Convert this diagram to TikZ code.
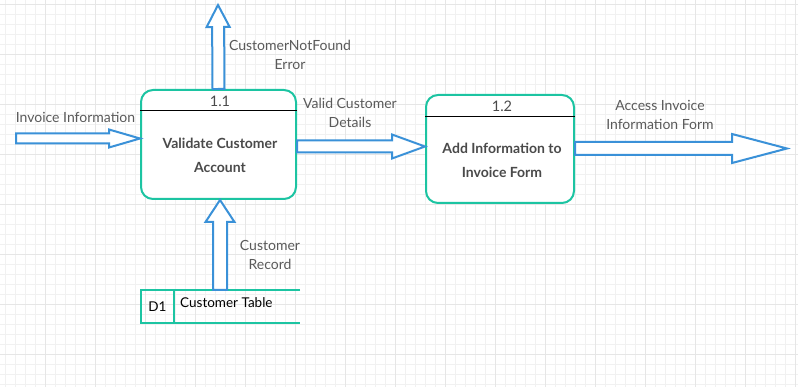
\documentclass[tikz,border=0pt]{standalone}
\usepackage{fontspec}
\setmainfont{Lato}
\usetikzlibrary{calc}

\definecolor{procline}{HTML}{1CC4A2}
\definecolor{flowblue}{HTML}{3A91D8}
\definecolor{labelgray}{HTML}{5A5A5A}
\definecolor{boxtext}{HTML}{4A4A4A}
\definecolor{gridminor}{HTML}{F1F1F1}
\definecolor{gridmajor}{HTML}{E6E6E6}

% hollow block arrow: #1 tail, #2 tip, #3 shaft half width, #4 head half width, #5 head length
\newcommand{\hollowflow}[5]{%
  \coordinate (hb) at ($(#2)!#5!(#1)$);
  \draw[flowstyle]
    ($(#1)!#3!90:(#2)$) -- ($(hb)!#3!-90:(#1)$) -- ($(hb)!#4!-90:(#1)$) -- (#2)
    -- ($(hb)!#4!90:(#1)$) -- ($(hb)!#3!90:(#1)$) -- ($(#1)!#3!-90:(#2)$) -- cycle;
}

\begin{document}
\begin{tikzpicture}[x=1pt,y=-1pt,
  process/.style={draw=procline, line width=2pt, rounded corners=12pt, fill=white,
    minimum width=155pt, minimum height=109pt, inner sep=0pt},
  flowstyle/.style={draw=flowblue, line width=2pt, fill=white, line join=miter},
  flowlabel/.style={text=labelgray, font=\fontsize{14}{19}\selectfont, align=center, inner sep=0pt},
  boxtitle/.style={text=boxtext, font=\bfseries\fontsize{14}{24}\selectfont, align=center, inner sep=0pt},
  boxnum/.style={text=boxtext, font=\fontsize{14.5}{16}\selectfont, inner sep=0pt},
  storeline/.style={draw=procline, line width=2pt},
  storetext/.style={text=black, font=\fontsize{13.5}{16}\selectfont, inner sep=0pt}
]
\useasboundingbox (0,0) rectangle (798,387);
\fill[white] (0,0) rectangle (798,387);

% background grid
\foreach \gx in {5,15,...,795} {\draw[gridminor, line width=0.8pt] (\gx,0) -- (\gx,387);}
\foreach \gy in {4,14,...,384} {\draw[gridminor, line width=0.8pt] (0,\gy) -- (798,\gy);}
\foreach \gx in {45,95,...,795} {\draw[gridmajor, line width=0.8pt] (\gx,0) -- (\gx,387);}
\foreach \gy in {4,54,...,384} {\draw[gridmajor, line width=0.8pt] (0,\gy) -- (798,\gy);}

% processes
\node[process] (validate) at (218.5,144.5) {};
\draw[black, line width=1pt] (validate.west |- 0,111) -- (validate.east |- 0,111);
\node[boxnum] (num11) at (220,101) {1.1};
\node[boxtitle] (title11) at (220,155) {Validate Customer\\Account};

\node[process, minimum width=148pt, minimum height=108pt] (addinfo) at (500,149) {};
\draw[black, line width=1pt] (addinfo.west |- 0,117) -- (addinfo.east |- 0,117);
\node[boxnum] (num12) at (502,106) {1.2};
\node[boxtitle] (title12) at (502,160) {Add Information to\\Invoice Form};

% data store
\draw[storeline] (300,290) -- (141,290) -- (141,323) -- (300,323);
\draw[storeline] (174,290) -- (174,323);
\node[storetext] (d1) at (157.5,307) {D1};
\node[storetext, anchor=west] (ctable) at (180,303) {Customer Table};

% flow end points
\coordinate (errtip) at (218,5);
\coordinate (invtail) at (16,138.5);
\coordinate (invtip) at (validate.west |- invtail);
\coordinate (validtail) at (validate.east |- 0,146.5);
\coordinate (validtip) at (addinfo.west |- validtail);
\coordinate (acctail) at (addinfo.east |- 0,148.5);
\coordinate (acctip) at (787,148.5);
\coordinate (rectail) at (220,290);
\coordinate (rectip) at (220,200);

% data flows
\hollowflow{validate.north}{errtip}{6pt}{11.5pt}{22pt}
\hollowflow{invtail}{invtip}{5pt}{9pt}{31pt}
\hollowflow{validtail}{validtip}{6pt}{12pt}{33pt}
\hollowflow{acctail}{acctip}{6.5pt}{14.5pt}{55pt}
\hollowflow{rectail}{rectip}{7pt}{14.5pt}{22pt}

% flow labels
\node[flowlabel] (errlabel) at (290,54.5) {CustomerNotFound\\Error};
\node[flowlabel] (invlabel) at (75.5,117) {Invoice Information};
\node[flowlabel] (validlabel) at (350,112.5) {Valid Customer\\Details};
\node[flowlabel] (acclabel) at (660,114.5) {Access Invoice\\Information Form};
\node[flowlabel] (reclabel) at (270,254.5) {Customer\\Record};
\end{tikzpicture}
\end{document}
